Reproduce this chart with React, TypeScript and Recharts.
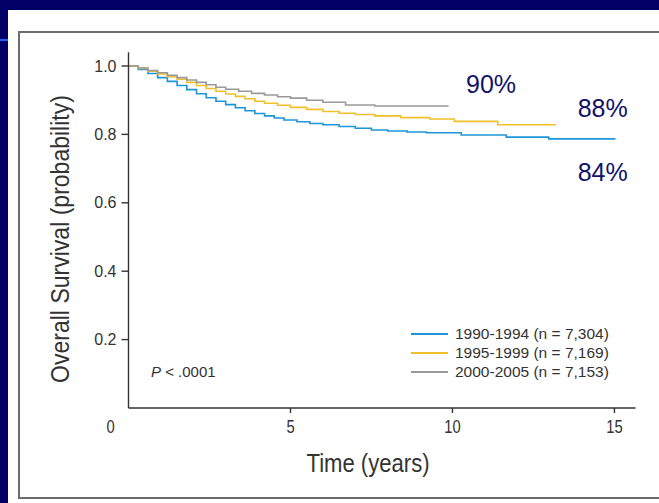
import React from "react";
import { LineChart, Line, XAxis, YAxis, Legend } from "recharts";

// Kaplan-Meier steps (years, survival probability)
const blueTimes = [0, 0.3, 0.6, 0.9, 1.2, 1.5, 1.8, 2.1, 2.4, 2.7, 3.0, 3.3, 3.6, 3.9, 4.2, 4.5, 4.8, 5.2, 5.6, 6.0, 6.5, 7.0, 7.5, 8.0, 8.6, 9.2, 10.27, 11.66, 12.97, 15.03];
const blueSurv = [1.0, 0.99, 0.978, 0.966, 0.955, 0.943, 0.931, 0.919, 0.907, 0.897, 0.887, 0.878, 0.869, 0.861, 0.854, 0.848, 0.842, 0.837, 0.832, 0.828, 0.823, 0.818, 0.813, 0.81, 0.807, 0.805, 0.798, 0.792, 0.787, 0.787];

const yellowTimes = [0, 0.3, 0.6, 0.9, 1.2, 1.5, 1.8, 2.1, 2.4, 2.7, 3.0, 3.3, 3.6, 3.9, 4.2, 4.6, 5.0, 5.5, 6.0, 6.5, 7.0, 7.6, 8.4, 9.3, 10.06, 11.4, 13.2];
const yellowSurv = [1.0, 0.993, 0.985, 0.977, 0.969, 0.961, 0.952, 0.943, 0.934, 0.926, 0.918, 0.911, 0.904, 0.897, 0.891, 0.885, 0.879, 0.873, 0.867, 0.862, 0.858, 0.854, 0.849, 0.845, 0.838, 0.828, 0.828];

const grayTimes = [0, 0.3, 0.6, 0.9, 1.2, 1.5, 1.8, 2.1, 2.4, 2.7, 3.0, 3.4, 3.8, 4.2, 4.6, 5.0, 5.5, 6.0, 6.7, 7.6, 9.88];
const graySurv = [1.0, 0.994, 0.987, 0.98, 0.973, 0.966, 0.959, 0.952, 0.945, 0.938, 0.932, 0.926, 0.92, 0.915, 0.91, 0.906, 0.9, 0.894, 0.886, 0.883, 0.883];

const seriesNames = ["1990-1994 (n = 7,304)", "1995-1999 (n = 7,169)", "2000-2005 (n = 7,153)"];
const seriesColors = ["#1e95d6", "#f0c02c", "#9a9a9a"];
const endLabels = ["90%", "88%", "84%"];

const xTicks = [0, 5, 10, 15];
const yTicks = [0.2, 0.4, 0.6, 0.8, 1.0];

const toPoints = (ts: number[], ss: number[]) => ts.map((t, i) => ({ t, s: ss[i] }));
const blueData = toPoints(blueTimes, blueSurv);
const yellowData = toPoints(yellowTimes, yellowSurv);
const grayData = toPoints(grayTimes, graySurv);

const NAVY = "#000066";
const INK = "#333333";
const arial = '"Liberation Sans", Arial, sans-serif';

// condensed look: Liberation Sans squeezed horizontally
function XTick(props: any) {
  const { x, y, payload } = props;
  const v = payload.value;
  const tx = v === 0 ? x - 18 : x;
  return (
    <g>
      {v !== 0 && <line x1={x} x2={x} y1={y} y2={y + 5} stroke={INK} strokeWidth={1.4} />}
      <text transform={`translate(${tx} ${y + 25}) scale(0.82 1)`} textAnchor="middle" fill={INK} fontSize={18} fontFamily={arial}>
        {v}
      </text>
    </g>
  );
}

function LegendBox(props: any) {
  const { payload } = props;
  return (
    <div style={{ fontFamily: arial, fontSize: 15.5, color: INK }}>
      {(payload || []).map((p: any, i: number) => (
        <div key={p.value} style={{ display: "flex", alignItems: "center", height: 19.2 }}>
          <div style={{ width: 37, height: 2, background: seriesColors[i], marginRight: 7, flex: "none" }} />
          <span style={{ whiteSpace: "nowrap" }}>{p.value}</span>
        </div>
      ))}
    </div>
  );
}

export default function App() {
  return (
    <div style={{ position: "absolute", left: 0, top: 0, width: 659, height: 503, background: NAVY, overflow: "hidden" }}>
      <div style={{ position: "absolute", left: 8, top: 10, width: 651, height: 493, background: "#fff" }} />
      <div style={{ position: "absolute", left: 0, top: 39, width: 8, height: 2, background: "#1f5fff" }} />
      <div style={{ position: "absolute", left: 18, top: 31, width: 660, height: 464, border: "2px solid #6c6c6c" }} />
      <div style={{ position: "absolute", left: 0, top: 0 }}>
        <LineChart width={659} height={503} margin={{ top: 52.3, right: 23.5, left: 48.5, bottom: 35 }}>
          <XAxis
            dataKey="t"
            type="number"
            domain={[0, 15.65]}
            ticks={xTicks}
            allowDuplicatedCategory={false}
            height={60}
            tickLine={false}
            tickSize={0}
            tickMargin={0}
            tick={<XTick />}
            axisLine={{ stroke: INK, strokeWidth: 1.4 }}
          />
          <YAxis
            type="number"
            domain={[0, 1.04]}
            ticks={yTicks}
            width={80}
            tickSize={7}
            tickMargin={5}
            tickFormatter={(v: number) => v.toFixed(1)}
            tick={{ fill: INK, fontSize: 16, fontFamily: arial }}
            tickLine={{ stroke: INK, strokeWidth: 1.4 }}
            axisLine={{ stroke: INK, strokeWidth: 1.4 }}
          />
          <Line data={blueData} dataKey="s" name={seriesNames[0]} type="stepAfter" stroke={seriesColors[0]} strokeWidth={1.6} dot={false} isAnimationActive={false} />
          <Line data={yellowData} dataKey="s" name={seriesNames[1]} type="stepAfter" stroke={seriesColors[1]} strokeWidth={1.6} dot={false} isAnimationActive={false} />
          <Line data={grayData} dataKey="s" name={seriesNames[2]} type="stepAfter" stroke={seriesColors[2]} strokeWidth={1.6} dot={false} isAnimationActive={false} />
          <Legend
            layout="vertical"
            align="center"
            verticalAlign="middle"
            content={<LegendBox />}
            wrapperStyle={{ position: "absolute", left: 411, top: 324.4, width: 240, height: 60 }}
          />
        </LineChart>
      </div>
      <svg width={659} height={503} style={{ position: "absolute", left: 0, top: 0, pointerEvents: "none" }}>
        <text transform="translate(68.5 239) rotate(-90) scale(0.886 1)" textAnchor="middle" fill={INK} fontSize={26} fontFamily={arial}>
          Overall Survival (probability)
        </text>
        <text transform="translate(368 471.5) scale(0.85 1)" textAnchor="middle" fill={INK} fontSize={26} fontFamily={arial}>
          Time (years)
        </text>
        <text x={151} y={376.7} fill={INK} fontSize={15} fontFamily={arial}>
          <tspan fontStyle="italic">P</tspan> &lt; .0001
        </text>
        <text x={466} y={93.3} fill="#12126a" fontSize={25} fontFamily={arial}>{endLabels[0]}</text>
        <text x={577.7} y={117.3} fill="#12126a" fontSize={25} fontFamily={arial}>{endLabels[1]}</text>
        <text x={577.7} y={180.7} fill="#12126a" fontSize={25} fontFamily={arial}>{endLabels[2]}</text>
      </svg>
    </div>
  );
}
